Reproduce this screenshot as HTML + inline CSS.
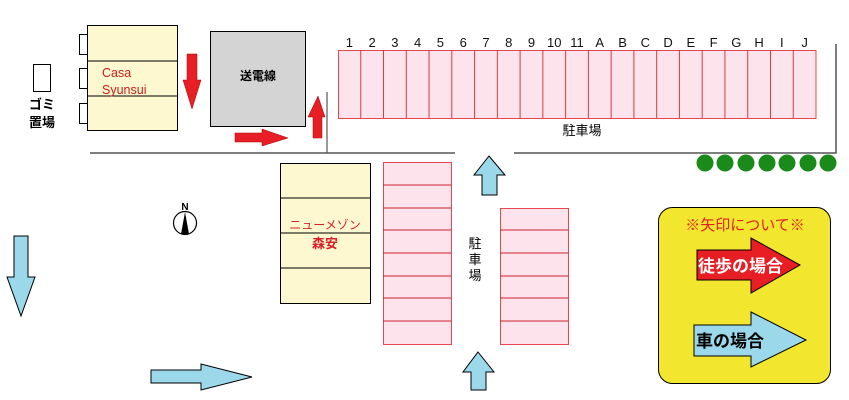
<!DOCTYPE html>
<html><head><meta charset="utf-8"><style>
html,body{margin:0;padding:0;background:#fff;}
svg{display:block;}
text{font-family:"Liberation Sans","Noto Sans CJK JP",sans-serif;}
</style></head><body>
<svg width="849" height="400" viewBox="0 0 849 400" xmlns="http://www.w3.org/2000/svg">
<rect x="33.5" y="64.5" width="17" height="27" fill="#fff" stroke="#000"/>
<text x="42" y="109" font-size="13" font-weight="bold" text-anchor="middle">ゴミ</text>
<text x="42" y="127" font-size="13" font-weight="bold" text-anchor="middle">置場</text>
<rect x="79.5" y="34.5" width="8" height="20" fill="#fff" stroke="#000"/>
<rect x="79.5" y="68.5" width="8" height="20" fill="#fff" stroke="#000"/>
<rect x="79.5" y="103.5" width="8" height="20" fill="#fff" stroke="#000"/>
<rect x="87.5" y="25.5" width="90" height="105" fill="#fdf8cf" stroke="#000"/>
<line x1="87" y1="61" x2="177" y2="61" stroke="#000"/>
<line x1="87" y1="96" x2="177" y2="96" stroke="#000"/>
<text x="102" y="77" font-size="12.5" fill="#c8201f">Casa</text>
<text x="102" y="94" font-size="12.5" fill="#c8201f">Syunsui</text>
<polygon points="187,54 197,54 197,80 201,80 192,109 183,80 187,80" fill="#e81e25" stroke="#a00" stroke-width="0.5"/>
<rect x="210.5" y="31.5" width="95" height="95" fill="#d4d4d4" stroke="#000"/>
<text x="258" y="80" font-size="12" font-weight="bold" text-anchor="middle">送電線</text>
<polygon points="235,133 262,133 262,129 288,138 262,146 262,142 235,142" fill="#e81e25" stroke="#a00" stroke-width="0.5"/>
<polygon points="313,138 313,117 308,117 318,96 325,117 322,117 322,138" fill="#e81e25" stroke="#a00" stroke-width="0.5"/>
<polyline points="90,153 455,153" fill="none" stroke="#555" stroke-width="1.5"/>
<line x1="327" y1="92" x2="327" y2="153" stroke="#555" stroke-width="1.2"/>
<polyline points="514,153 836,153 836,44" fill="none" stroke="#555" stroke-width="1.5"/>
<rect x="338.5" y="50.5" width="477.5" height="68" fill="#fde4ec" stroke="#e8474f"/>
<g stroke="#d83a44" stroke-width="1" id="tp"></g>
<g font-size="13" text-anchor="middle" fill="#111" id="tl"></g>
<text x="582" y="135" font-size="13" text-anchor="middle">駐車場</text>
<g fill="#1a8a1a">
<circle cx="705" cy="163" r="8.5"/><circle cx="725" cy="163" r="8.5"/><circle cx="746" cy="163" r="8.5"/><circle cx="767" cy="163" r="8.5"/><circle cx="787" cy="163" r="8.5"/><circle cx="808" cy="163" r="8.5"/><circle cx="828" cy="163" r="8.5"/>
</g>
<circle cx="185" cy="223" r="11.5" fill="#fff" stroke="#000" stroke-width="1.2"/>
<polygon points="185,212 181,234 189,234" fill="#000"/>
<text x="185" y="210" font-size="10" text-anchor="middle" font-weight="bold">N</text>
<rect x="280.5" y="163.5" width="90" height="140" fill="#fdf8cf" stroke="#000"/>
<line x1="280" y1="198" x2="370" y2="198" stroke="#000"/>
<line x1="280" y1="233" x2="370" y2="233" stroke="#000"/>
<line x1="280" y1="268" x2="370" y2="268" stroke="#000"/>
<text x="325" y="229" font-size="12" text-anchor="middle" fill="#d8202a">ニューメゾン</text>
<text x="325" y="248" font-size="13" text-anchor="middle" fill="#d8202a" font-weight="bold">森安</text>
<rect x="383.5" y="162.5" width="68" height="182" fill="#fde4ec" stroke="#e8474f"/>
<g stroke="#d0202a">
<line x1="383" y1="185" x2="451" y2="185"/><line x1="383" y1="208" x2="451" y2="208"/><line x1="383" y1="230" x2="451" y2="230"/><line x1="383" y1="253" x2="451" y2="253"/><line x1="383" y1="276" x2="451" y2="276"/><line x1="383" y1="298" x2="451" y2="298"/><line x1="383" y1="321" x2="451" y2="321"/>
</g>
<rect x="500.5" y="208.5" width="68" height="136" fill="#fde4ec" stroke="#e8474f"/>
<g stroke="#d0202a">
<line x1="500" y1="230" x2="568" y2="230"/><line x1="500" y1="253" x2="568" y2="253"/><line x1="500" y1="276" x2="568" y2="276"/><line x1="500" y1="298" x2="568" y2="298"/><line x1="500" y1="321" x2="568" y2="321"/>
</g>
<text x="475" y="248" font-size="13" text-anchor="middle">駐</text>
<text x="475" y="264" font-size="13" text-anchor="middle">車</text>
<text x="475" y="280" font-size="13" text-anchor="middle">場</text>
<g fill="#9ad8ea" stroke="#000" stroke-width="1">
<polygon points="489,156 505,175 497,175 497,195 482,195 482,175 474,175"/>
<polygon points="478,352 494,372 486,372 486,390 471,390 471,372 463,372"/>
<polygon points="14,236 28,236 28,277 35,277 21,316 7,277 14,277"/>
<polygon points="151,370 201,370 201,364 252,377 201,390 201,383 151,383"/>
</g>
<rect x="658.5" y="207.5" width="172" height="176" rx="14" fill="#f3e62e" stroke="#000"/>
<text x="745" y="230" font-size="15" text-anchor="middle" fill="#e02020">※矢印について※</text>
<polygon points="697,250 751,250 751,238 800,265 751,293 751,280 697,280" fill="#e81e25" stroke="#000"/>
<text x="698" y="272" font-size="17" font-weight="bold" fill="#fff">徒歩の場合</text>
<polygon points="694,325 751,325 751,312 806,340 751,367 751,356 694,356" fill="#9ad8ea" stroke="#000"/>
<text x="696" y="347" font-size="17" font-weight="bold" fill="#000">車の場合</text>
</svg>
<script>
var ns="http://www.w3.org/2000/svg",tp=document.getElementById('tp'),tl=document.getElementById('tl');
var labs=["1","2","3","4","5","6","7","8","9","10","11","A","B","C","D","E","F","G","H","I","J"];
var w=(816-338)/21;
for(var i=0;i<21;i++){var x=338+w*i;
if(i>0){var l=document.createElementNS(ns,'line');l.setAttribute('x1',x);l.setAttribute('x2',x);l.setAttribute('y1',50);l.setAttribute('y2',118);tp.appendChild(l);}
var t=document.createElementNS(ns,'text');t.setAttribute('x',x+w/2);t.setAttribute('y',47);t.textContent=labs[i];tl.appendChild(t);}
</script>
</body></html>
